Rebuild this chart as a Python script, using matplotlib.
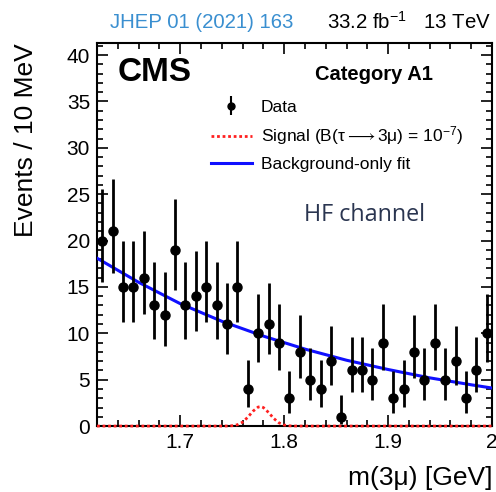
import math
import numpy as np
import matplotlib
matplotlib.use("Agg")
import matplotlib.pyplot as plt
from matplotlib.ticker import MultipleLocator
from matplotlib.legend_handler import HandlerErrorbar

# ====== DATA ======
BIN_LO = 1.62
BIN_WIDTH = 0.01
counts = [20, 21, 15, 15, 16, 13, 12, 19, 13, 14, 15, 13, 11, 15, 4, 10, 11, 9, 3,
          8, 5, 4, 7, 1, 6, 6, 5, 9, 3, 4, 8, 5, 9, 5, 7, 3, 6, 10]

# background-only fit
bkg_mass = [1.62, 1.66, 1.70, 1.74, 1.78, 1.82, 1.86, 1.90, 1.94, 1.98, 2.00]
bkg_events = [18.1, 15.5, 13.2, 11.3, 9.7, 8.3, 7.1, 6.1, 5.2, 4.45, 4.1]

# signal shape (B = 1e-7)
sig_mass = [1.62, 1.74, 1.745, 1.75, 1.755, 1.76, 1.765, 1.77, 1.775, 1.7775, 1.78,
            1.785, 1.79, 1.795, 1.80, 1.805, 1.81, 1.82, 2.00]
sig_events = [0.0, 0.0, 0.007, 0.037, 0.14, 0.42, 0.95, 1.60, 2.05, 2.10, 2.00,
              1.47, 0.82, 0.35, 0.11, 0.027, 0.005, 0.0, 0.0]

SIG_LABEL = 'Signal (B(\u03c4$\\longrightarrow$3\u03bc) = 10$^{-7}$)'


# ====== POISSON (GARWOOD) ERRORS ======
def poisson_cdf(k, mu):
    term = math.exp(-mu)
    total = term
    for i in range(1, k + 1):
        term *= mu / i
        total += term
    return total


def bisect(f, lo, hi, n_iter=80):
    for _ in range(n_iter):
        mid = 0.5 * (lo + hi)
        if f(mid) > 0:
            lo = mid
        else:
            hi = mid
    return 0.5 * (lo + hi)


def garwood(n, alpha=0.158655):
    up = bisect(lambda mu: poisson_cdf(n, mu) - alpha, n, n + 30)
    if n == 0:
        low = 0.0
    else:
        low = bisect(lambda mu: poisson_cdf(n - 1, mu) - (1 - alpha), 0.0, n)
    return n - low, up - n


errs = np.array([garwood(n) for n in counts]).T
centres = BIN_LO + BIN_WIDTH * (np.arange(len(counts)) + 0.5)

# ====== PLOT ======
plt.rcParams['font.family'] = ['Liberation Sans', 'DejaVu Sans']
plt.rcParams['mathtext.fontset'] = 'custom'
plt.rcParams['mathtext.rm'] = 'Liberation Sans'
plt.rcParams['mathtext.it'] = 'Liberation Sans'
plt.rcParams['mathtext.fallback'] = 'stixsans'

fig = plt.figure(figsize=(4.96, 4.92), dpi=100)
ax = fig.add_axes([0.1956, 0.134, 0.7964, 0.7786])

sig_line, = ax.plot(sig_mass, sig_events, color='#ff2020', ls=(0, (1, 1)), lw=2.0,
                    zorder=5, clip_on=False)
bkg_line, = ax.plot(bkg_mass, bkg_events, color='#1010ff', lw=2.2, zorder=3)
ax.errorbar(centres, counts, yerr=errs, fmt='o', color='black', ms=6.5,
            elinewidth=2.0, capsize=0, zorder=4)

# legend proxy for the data (with caps, ROOT style)
proxy = ax.errorbar([], [], yerr=[], fmt='o', color='black', ms=5,
                    elinewidth=1.5, capsize=3, capthick=1.5)

ax.legend([proxy, sig_line, bkg_line],
          ['Data', SIG_LABEL, 'Background-only fit'],
          loc='upper left', bbox_to_anchor=(0.27, 0.87), frameon=False,
          fontsize=12.5, handlelength=2.4, handletextpad=0.5,
          labelspacing=0.55, borderaxespad=0,
          handler_map={type(proxy): HandlerErrorbar(yerr_size=0.55)})

ax.set_xlim(1.62, 2.0)
ax.set_ylim(0, 41.3)
ax.xaxis.set_minor_locator(MultipleLocator(0.02))
ax.yaxis.set_major_locator(MultipleLocator(5))
ax.yaxis.set_minor_locator(MultipleLocator(1))
ax.set_xticks([1.7, 1.8, 1.9, 2.0])
ax.set_xticklabels(['1.7', '1.8', '1.9', '2'])
ax.tick_params(which='both', direction='in', top=True, right=True, width=1.2,
               labelsize=15)
ax.tick_params(which='major', length=8, pad=5)
ax.tick_params(which='minor', length=4)
for s in ax.spines.values():
    s.set_linewidth(1.5)

ax.set_ylabel('Events / 10 MeV', fontsize=19)
ax.yaxis.set_label_coords(-0.15, 1.0, transform=ax.transAxes)
ax.yaxis.label.set_ha('right')
ax.set_xlabel('m(3\u03bc) [GeV]', fontsize=19)
ax.xaxis.set_label_coords(1.0, -0.105)
ax.xaxis.label.set_ha('right')

ax.text(0.053, 0.922, 'CMS', transform=ax.transAxes, fontsize=24,
        fontweight='bold', va='center', ha='left')
ax.text(0.85, 0.918, 'Category A1', transform=ax.transAxes, fontsize=14.5,
        fontweight='bold', va='center', ha='right')
ax.text(0.525, 0.55, 'HF channel', transform=ax.transAxes, fontsize=16.8,
        family='Open Sans', color='#2a3550', va='center', ha='left')

fig.text(0.222, 0.955, 'JHEP 01 (2021) 163', fontsize=14.7, color='#3a8fd0',
         va='center', ha='left')
fig.text(0.99, 0.955, '33.2 fb$^{-1}$   13 TeV', fontsize=14.7, color='black',
         va='center', ha='right')

fig.savefig('out.png', dpi=100)
